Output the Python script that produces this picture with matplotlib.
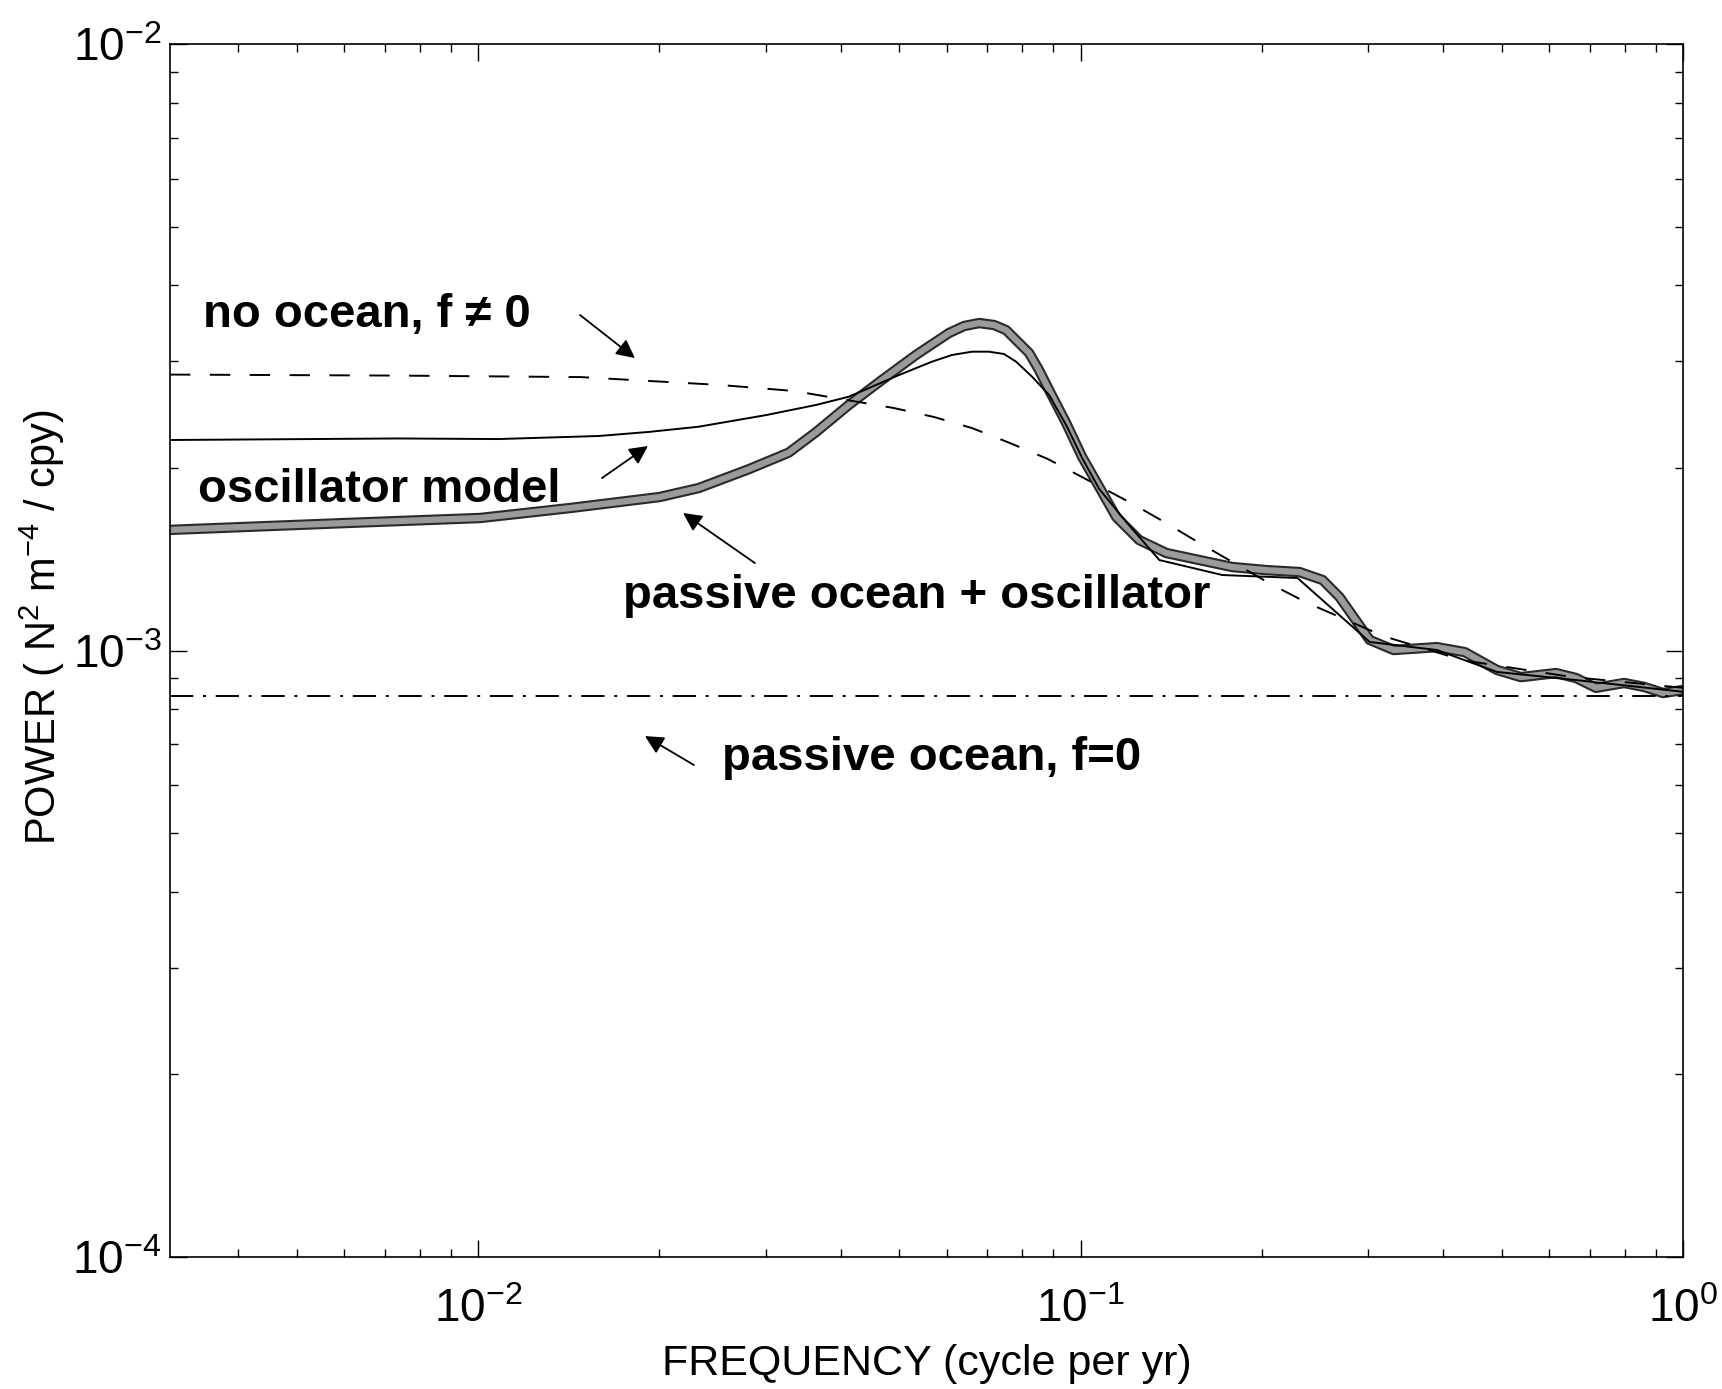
import matplotlib
matplotlib.use("Agg")
from matplotlib import pyplot as plt

plt.rcParams['font.family'] = ['Liberation Sans', 'DejaVu Sans']
plt.rcParams['mathtext.fontset'] = 'custom'
plt.rcParams['mathtext.rm'] = 'Liberation Sans'
plt.rcParams['mathtext.it'] = 'Liberation Sans:italic'
plt.rcParams['mathtext.bf'] = 'Liberation Sans:bold'

# passive ocean + oscillator (thick curve)
f_thick = [0.00308, 0.00606, 0.01008, 0.01423, 0.02001, 0.02323, 0.02812, 0.03278,
           0.03635, 0.04123, 0.0468, 0.05329, 0.06046, 0.06406, 0.06785,
           0.07185, 0.07522, 0.08215, 0.0853, 0.08867, 0.09463, 0.1006, 0.1074,
           0.1146, 0.1251, 0.1388, 0.1574, 0.1786, 0.2034, 0.2309, 0.2522, 0.269,
           0.3019, 0.3309, 0.3902, 0.4342, 0.4908, 0.538, 0.6151, 0.6641, 0.7168,
           0.7979, 0.8615, 0.9264, 1.0]
p_thick = [1.581e-3, 1.623e-3, 1.654e-3, 1.718e-3, 1.791e-3, 1.853e-3, 1.990e-3, 2.120e-3,
           2.290e-3, 2.540e-3, 2.793e-3, 3.071e-3, 3.338e-3, 3.428e-3, 3.467e-3,
           3.441e-3, 3.376e-3, 3.094e-3, 2.901e-3, 2.688e-3, 2.372e-3, 2.085e-3, 1.860e-3,
           1.660e-3, 1.521e-3, 1.448e-3, 1.410e-3, 1.373e-3, 1.357e-3, 1.347e-3, 1.307e-3, 1.225e-3,
           1.041e-3, 1.002e-3, 1.013e-3, 0.994e-3, 0.929e-3, 0.904e-3, 0.918e-3, 0.901e-3, 0.868e-3,
           0.884e-3, 0.871e-3, 0.851e-3, 0.861e-3]

# oscillator model (thin solid)
f_osc = [0.00308, 0.00737, 0.0108, 0.01585, 0.01918, 0.02323, 0.03002, 0.03635, 0.04123,
         0.04995, 0.05666, 0.06116, 0.06604, 0.07047, 0.0746, 0.07816, 0.08311, 0.08867,
         0.09463, 0.1006, 0.1074, 0.1191, 0.1351, 0.1719, 0.2291, 0.3019, 0.3902, 0.4908,
         0.6641, 1.0]
p_osc = [2.224e-3, 2.237e-3, 2.232e-3, 2.258e-3, 2.293e-3, 2.339e-3, 2.444e-3, 2.540e-3, 2.621e-3,
         2.846e-3, 2.994e-3, 3.071e-3, 3.110e-3, 3.110e-3, 3.083e-3, 2.994e-3, 2.827e-3, 2.638e-3,
         2.354e-3, 2.077e-3, 1.846e-3, 1.629e-3, 1.410e-3, 1.332e-3, 1.317e-3, 1.033e-3, 1.002e-3,
         0.922e-3, 0.894e-3, 0.855e-3]

# no ocean, f != 0 (dashed)
f_noocean = [0.00308, 0.00737, 0.01479, 0.02518, 0.03342, 0.04898, 0.0571, 0.06604,
             0.07638, 0.08834, 0.1214, 0.1377, 0.1586, 0.2083, 0.238, 0.3184, 0.4308, 0.65, 1.0]
p_noocean = [2.851e-3, 2.840e-3, 2.824e-3, 2.741e-3, 2.679e-3, 2.511e-3, 2.427e-3, 2.327e-3,
             2.198e-3, 2.068e-3, 1.750e-3, 1.629e-3, 1.498e-3, 1.282e-3, 1.198e-3, 1.056e-3,
             0.964e-3, 0.905e-3, 0.868e-3]

# passive ocean, f=0 (dash-dot)
f_passive = [0.00308, 1.0]
p_passive = [0.84e-3, 0.84e-3]

fig = plt.figure(figsize=(17.22, 13.89), dpi=100)
ax = fig.add_axes([0.0987, 0.095, 0.8787, 0.8733])

# thick hatched-looking curve: dark edge + grey core
ax.plot(f_thick, p_thick, color='#2a2a2a', lw=7.5, solid_capstyle='butt', solid_joinstyle='round', zorder=2)
ax.plot(f_thick, p_thick, color='#9a9a9a', lw=4.5, solid_capstyle='butt', solid_joinstyle='round', zorder=2)

ax.plot(f_osc, p_osc, color='k', lw=1.4, zorder=3)
ax.plot(f_noocean, p_noocean, color='k', lw=1.4, linestyle=(0, (10.5, 10)), zorder=3)
ax.plot(f_passive, p_passive, color='k', lw=1.4, linestyle=(0, (12, 5, 1.5, 5)), zorder=3)

ax.set_xscale('log')
ax.set_yscale('log')
ax.set_xlim(0.00308, 1.0)
ax.set_ylim(1e-4, 1e-2)

ax.tick_params(which='both', direction='in', top=True, right=True, labelsize=33, width=1)
ax.tick_params(which='major', length=12)
ax.tick_params(which='minor', length=6)
ax.tick_params(axis='x', which='major', pad=22)
ax.tick_params(axis='y', which='major', pad=6)
for s in ax.spines.values():
    s.set_linewidth(1.2)

ax.set_xlabel('FREQUENCY (cycle per yr)', fontsize=31)
ax.set_ylabel('POWER ( N$^2$ m$^{-4}$ / cpy)', fontsize=30)
ax.xaxis.set_label_coords(0.5, -0.072)
ax.yaxis.set_label_coords(-0.068, 0.519)

# annotations
tkw = dict(transform=ax.transAxes, fontsize=34, fontweight='bold', va='center', ha='left')
akw = dict(arrowstyle='-|>', color='k', lw=1.3, mutation_scale=28, shrinkA=0, shrinkB=0)

ax.text(0.0218, 0.7766, 'no ocean, f \u2260 0', **tkw)
ax.annotate('', xy=(0.3073, 0.7411), xytext=(0.271, 0.7766),
            xycoords='axes fraction', textcoords='axes fraction', arrowprops=akw)

ax.text(0.0185, 0.6323, 'oscillator model', **tkw)
ax.annotate('', xy=(0.3159, 0.6686), xytext=(0.2855, 0.6422),
            xycoords='axes fraction', textcoords='axes fraction', arrowprops=akw)

ax.text(0.2994, 0.5449, 'passive ocean + oscillator', **tkw)
ax.annotate('', xy=(0.3391, 0.6134), xytext=(0.3866, 0.5721),
            xycoords='axes fraction', textcoords='axes fraction', arrowprops=akw)

ax.text(0.3648, 0.4114, 'passive ocean, f=0', **tkw)
ax.annotate('', xy=(0.3139, 0.4295), xytext=(0.3463, 0.4056),
            xycoords='axes fraction', textcoords='axes fraction', arrowprops=akw)

fig.savefig('out.png', dpi=100)
